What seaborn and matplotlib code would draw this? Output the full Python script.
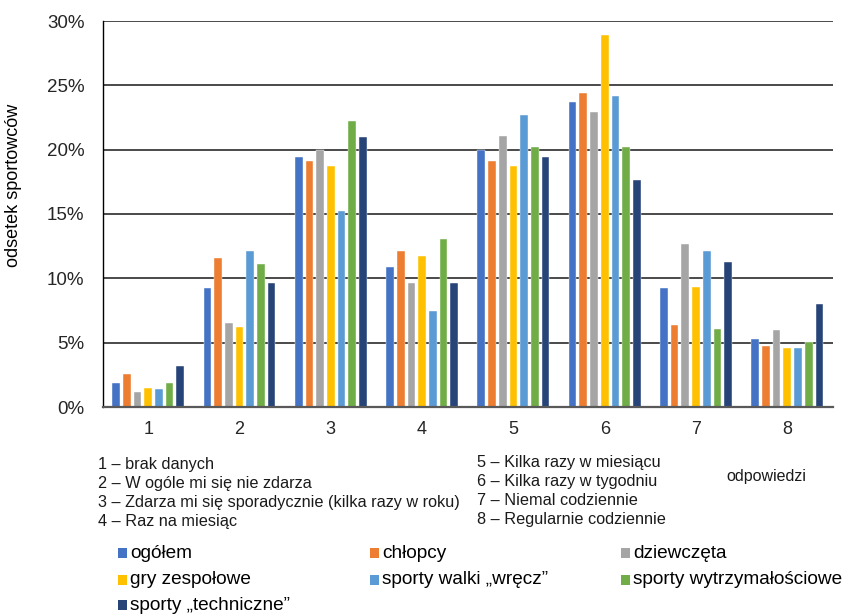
import numpy as np
import pandas as pd
import seaborn as sns
import matplotlib.pyplot as plt
from matplotlib.patches import Rectangle

# Response categories (x axis)
categories = ["1", "2", "3", "4", "5", "6", "7", "8"]

# Share of athletes (%) per response, for each group
ogolem = [1.9, 9.25, 19.4, 10.9, 20.0, 23.7, 9.25, 5.3]
chlopcy = [2.6, 11.6, 19.15, 12.15, 19.1, 24.4, 6.35, 4.75]
dziewczeta = [1.15, 6.55, 20.0, 9.6, 21.05, 22.9, 12.65, 5.95]
gry_zespolowe = [1.5, 6.25, 18.75, 11.7, 18.75, 28.9, 9.35, 4.6]
sporty_walki = [1.4, 12.1, 15.2, 7.5, 22.7, 24.15, 12.1, 4.55]
sporty_wytrzymalosciowe = [1.9, 11.1, 22.2, 13.05, 20.2, 20.2, 6.05, 5.05]
sporty_techniczne = [3.2, 9.65, 21.0, 9.65, 19.4, 17.65, 11.3, 8.0]

series_names = ["ogółem", "chłopcy", "dziewczęta", "gry zespołowe",
                "sporty walki „wręcz”", "sporty wytrzymałościowe",
                "sporty „techniczne”"]
series_values = [ogolem, chlopcy, dziewczeta, gry_zespolowe, sporty_walki,
                 sporty_wytrzymalosciowe, sporty_techniczne]
colors = ["#4472C4", "#ED7D31", "#A5A5A5", "#FFC000", "#5B9BD5",
          "#70AD47", "#264478"]

y_ticks = [0, 5, 10, 15, 20, 25, 30]
y_tick_labels = [f"{v}%" for v in y_ticks]

notes_left = ["1 – brak danych", "2 – W ogóle mi się nie zdarza",
              "3 – Zdarza mi się sporadycznie (kilka razy w roku)",
              "4 – Raz na miesiąc"]
notes_right = ["5 – Kilka razy w miesiącu", "6 – Kilka razy w tygodniu",
               "7 – Niemal codziennie", "8 – Regularnie codziennie"]

rows = []
for name, vals in zip(series_names, series_values):
    for cat, v in zip(categories, vals):
        rows.append({"odpowiedz": cat, "odsetek": v, "grupa": name})
df = pd.DataFrame(rows)

sns.set_style("white")
plt.rcParams["font.family"] = ["Liberation Sans", "DejaVu Sans"]

W, H = 846, 615
fig = plt.figure(figsize=(W / 100, H / 100), dpi=100)
ax = fig.add_axes([102.5 / W, 1 - 407 / H, (833 - 102.5) / W, (407 - 21) / H])

sns.barplot(data=df, x="odpowiedz", y="odsetek", hue="grupa",
            order=categories, hue_order=series_names, palette=colors,
            saturation=1, width=0.82, gap=0.28, edgecolor="white",
            linewidth=0.3, legend=False, ax=ax)

ax.set_ylim(0, 30)
ax.set_yticks(y_ticks)
ax.set_yticklabels(y_tick_labels, fontsize=13.5)
ax.tick_params(axis="both", length=0)
ax.tick_params(axis="y", pad=13)
ax.tick_params(axis="x", pad=10, labelsize=13)
for t in y_ticks[1:]:
    ax.axhline(t, color="#3c3c3c", lw=1.3, zorder=0)
ax.set_xlabel("")
ax.set_ylabel("")

for side in ["top", "right"]:
    ax.spines[side].set_visible(False)
ax.spines["left"].set_color("black")
ax.spines["left"].set_linewidth(1.0)
ax.spines["bottom"].set_color("#595959")
ax.spines["bottom"].set_linewidth(1.6)

fig.text(14 / W, 1 - 185 / H, "odsetek sportowców", rotation=90,
         fontsize=13, ha="center", va="center", color="black")

# Explanation of the response codes
for i, txt in enumerate(notes_left):
    fig.text(98 / W, 1 - (464 + 19.3 * i) / H, txt, fontsize=11.7,
             va="center", ha="left", color="#1a1a1a")
for i, txt in enumerate(notes_right):
    fig.text(477 / W, 1 - (463 + 18.8 * i) / H, txt, fontsize=11.7,
             va="center", ha="left", color="#1a1a1a")
fig.text(726 / W, 1 - 476 / H, "odpowiedzi", fontsize=11.5,
         va="center", ha="left", color="#1a1a1a")

# Legend laid out in three columns
col_x = [118, 370, 621]
row_y = [553, 580, 605]
for i, (name, c) in enumerate(zip(series_names, colors)):
    r, k = divmod(i, 3)
    x0, y0 = col_x[k], row_y[r]
    fig.patches.append(Rectangle((x0 / W, 1 - (y0 + 5) / H), 8.5 / W, 10 / H,
                                 transform=fig.transFigure, facecolor=c,
                                 edgecolor="none"))
    fig.text((x0 + 12) / W, 1 - y0 / H, name, fontsize=13.7,
             va="center", ha="left", color="black")

fig.savefig("out.png", dpi=100)
